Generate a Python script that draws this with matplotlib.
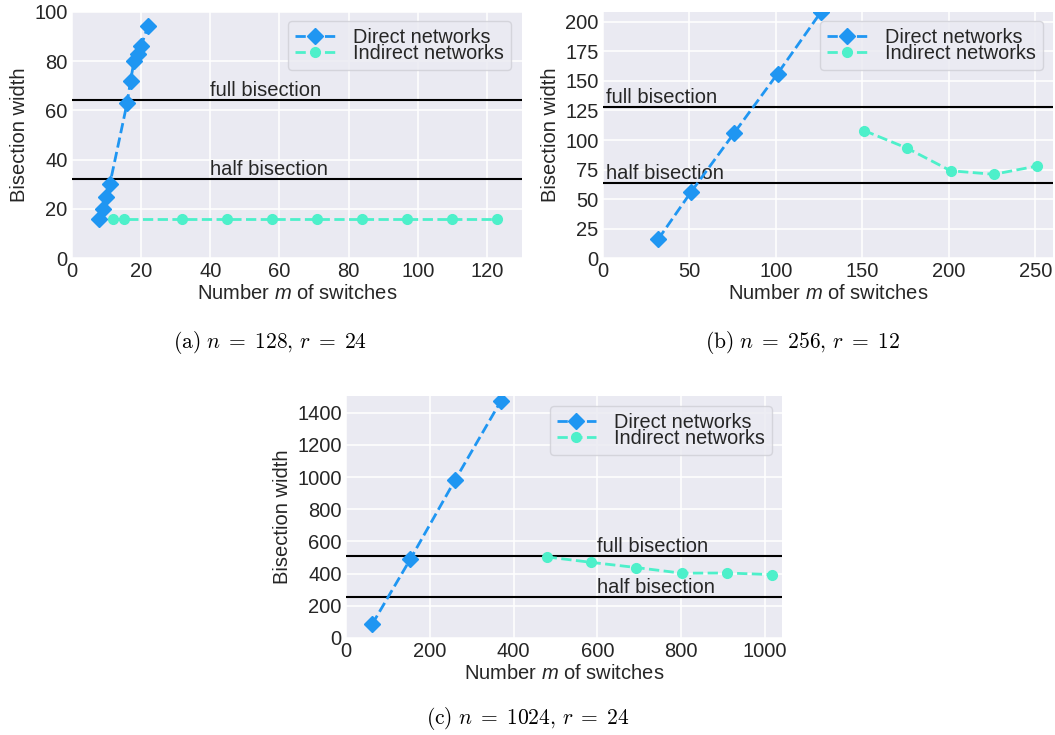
import matplotlib
matplotlib.use("Agg")
import matplotlib.pyplot as plt

# ---- data ----
a_direct_m = [8, 9, 10, 11, 16, 17, 18, 19, 20, 22]
a_direct_bw = [16, 20, 25, 30, 63, 72, 80, 83, 86, 94]
a_indirect_m = [12, 15, 32, 45, 58, 71, 84, 97, 110, 123]
a_indirect_bw = [16, 16, 16, 16, 16, 16, 16, 16, 16, 16]
a_full, a_half = 64, 32

b_direct_m = [32, 51, 76, 101, 126]
b_direct_bw = [16, 56, 106, 156, 208]
b_indirect_m = [151, 176, 201, 226, 251]
b_indirect_bw = [108, 93, 74, 71, 78]
b_full, b_half = 128, 64

c_direct_m = [62, 153, 261, 370]
c_direct_bw = [84, 488, 985, 1475]
c_indirect_m = [479, 586, 693, 801, 910, 1018]
c_indirect_bw = [504, 470, 438, 403, 404, 394]
c_full, c_half = 512, 256

captions = [r"$\mathrm{(a)}\ n \;=\; 128,\, r \;=\; 24$",
            r"$\mathrm{(b)}\ n \;=\; 256,\, r \;=\; 12$",
            r"$\mathrm{(c)}\ n \;=\; 1024,\, r \;=\; 24$"]

# ---- style ----
plt.rcParams['font.family'] = ['Liberation Sans', 'DejaVu Sans']
plt.rcParams['mathtext.fontset'] = 'custom'
plt.rcParams['mathtext.it'] = 'Liberation Sans:italic'
plt.rcParams['mathtext.rm'] = 'Liberation Sans'

BG = '#EAEAF2'
TXT = '#262626'
C_DIR = '#1F96F2'
C_IND = '#4DF0CA'
FS = 14.5
LFS = 14.3

fig = plt.figure(figsize=(10.55, 7.35), dpi=100)


def make_ax(rect, dm, dbw, im, ibw, full, half, xlim, ylim, xt, yt, txt_x, anchor):
    ax = fig.add_axes(rect)
    ax.set_facecolor(BG)
    for s in ax.spines.values():
        s.set_visible(False)
    ax.grid(True, color='white', lw=1.1)
    ax.set_axisbelow(True)
    ax.tick_params(length=0, labelsize=FS, colors=TXT, pad=3)
    ax.axhline(full, color='black', lw=1.5, zorder=2)
    ax.axhline(half, color='black', lw=1.5, zorder=2)
    ax.text(txt_x, full, 'full bisection', fontsize=FS, color=TXT, va='bottom')
    ax.text(txt_x, half, 'half bisection', fontsize=FS, color=TXT, va='bottom')
    ax.plot(dm, dbw, ls='--', lw=2, color=C_DIR, marker='D', ms=8,
            label='Direct networks', zorder=3)
    ax.plot(im, ibw, ls='--', lw=2, color=C_IND, marker='o', ms=7,
            label='Indirect networks', zorder=3)
    ax.set_xlim(*xlim)
    ax.set_ylim(*ylim)
    ax.set_xticks(xt)
    ax.set_yticks(yt)
    ax.set_xlabel(r'Number $m$ of switches', fontsize=FS, color=TXT, labelpad=2)
    ax.set_ylabel('Bisection width', fontsize=FS, color=TXT, labelpad=4)
    leg = ax.legend(fontsize=LFS, facecolor=BG, edgecolor='#CFCFD6', framealpha=0.8,
                    labelspacing=-0.15, handlelength=2.0, borderpad=0.35,
                    handletextpad=0.9, borderaxespad=0, loc='upper right',
                    bbox_to_anchor=anchor)
    for t in leg.get_texts():
        t.set_color(TXT)
    return ax


make_ax([0.068, 0.6486, 0.4265, 0.3355], a_direct_m, a_direct_bw, a_indirect_m, a_indirect_bw,
        a_full, a_half, (0, 130), (0, 100), range(0, 121, 20), range(0, 101, 20), 40,
        (0.9756, 0.962))
make_ax([0.5713, 0.6486, 0.4265, 0.3355], b_direct_m, b_direct_bw, b_indirect_m, b_indirect_bw,
        b_full, b_half, (0, 260), (0, 208.5), range(0, 251, 50), range(0, 201, 25), 2,
        (0.978, 0.963))
make_ax([0.328, 0.132, 0.4133, 0.3293], c_direct_m, c_direct_bw, c_indirect_m, c_indirect_bw,
        c_full, c_half, (0, 1041), (0, 1505), range(0, 1001, 200), range(0, 1401, 200), 600,
        (0.977, 0.959))

cap_pos = [(270 / 1055, 1 - 343 / 735), (802 / 1055, 1 - 343 / 735), (528 / 1055, 1 - 718 / 735)]
for (x, y), cap in zip(cap_pos, captions):
    fig.text(x, y, cap, fontsize=15.5, ha='center', va='center', math_fontfamily='cm', color='black')

fig.savefig('out.png', dpi=100, facecolor='white')
